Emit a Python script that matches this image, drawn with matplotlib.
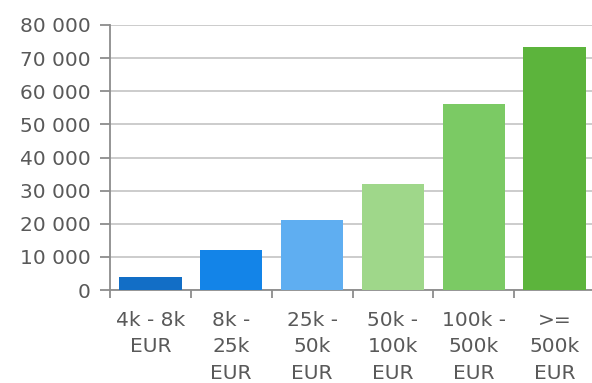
import matplotlib
matplotlib.use("Agg")
from matplotlib import pyplot as plt
import numpy as np

categories = ["4k - 8k\nEUR", "8k -\n25k\nEUR", "25k -\n50k\nEUR",
              "50k -\n100k\nEUR", "100k -\n500k\nEUR", ">=\n500k\nEUR"]
values = [4000, 12000, 21000, 32000, 56000, 73500]
colors = ["#126ec6", "#1384e8", "#5faef1", "#9fd78a", "#7bca64", "#5cb43c"]
yticks = np.arange(0, 80001, 10000)

TEXT = "#595959"
AXIS = "#8c8c8c"

fig = plt.figure(figsize=(5.92, 3.83), dpi=100)
ax = fig.add_axes([110 / 592, 93 / 383, 485 / 592, 265 / 383])

x = np.arange(len(categories))
ax.bar(x, values, width=0.77, color=colors, zorder=3)

ax.set_xlim(-0.5, len(categories) - 0.5)
ax.set_ylim(0, 80000)

ax.set_yticks(yticks)
ax.set_yticklabels([f"{v:,}".replace(",", " ") for v in yticks],
                   fontsize=14.5, color=TEXT)
ax.yaxis.grid(True, color="#c8c8c8", linewidth=1.3, zorder=0)
ax.set_axisbelow(True)

# category labels centred, tick marks on the category boundaries
ax.set_xticks(x)
ax.set_xticklabels(categories, fontsize=14.5, color=TEXT, linespacing=1.5)
ax.set_xticks(np.arange(len(categories) + 1) - 0.5, minor=True)
ax.tick_params(axis="x", which="major", length=0, pad=15)
ax.tick_params(axis="x", which="minor", length=6, width=1.3, color=AXIS)
ax.tick_params(axis="y", length=7, width=1.3, color=AXIS, pad=7)

for side in ["top", "right"]:
    ax.spines[side].set_visible(False)
for side in ["left", "bottom"]:
    ax.spines[side].set_color(AXIS)
    ax.spines[side].set_linewidth(1.3)

fig.savefig("out.png", dpi=100)
